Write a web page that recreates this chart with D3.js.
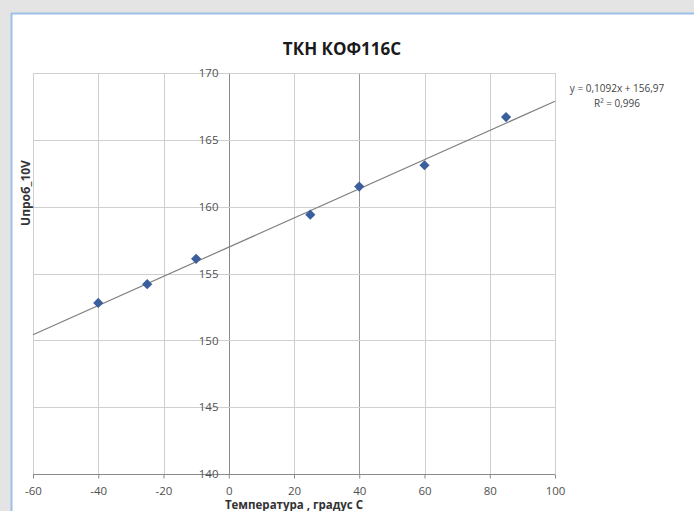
<!DOCTYPE html>
<html>
<head>
<meta charset="utf-8">
<script src="https://cdn.jsdelivr.net/npm/d3@7"></script>
<style>
  html, body { margin: 0; padding: 0; background: #fff; }
  svg { display: block; }
</style>
</head>
<body>
<div id="chart"></div>
<script>
"use strict";

// values
var temps = [-40, -25, -10, 25, 40, 60, 85];
var volts = [152.8, 154.2, 156.1, 159.4, 161.5, 163.1, 166.7];
var xTicks = [-60, -40, -20, 0, 20, 40, 60, 80, 100];
var yTicks = [140, 145, 150, 155, 160, 165, 170];
// trendline from the chart's own equation
var trendSlope = 0.1092;
var trendIntercept = 156.97;
var trendLabel = "y = 0,1092x + 156,97";
var r2Label = "R\u00b2 = 0,996";

var W = 694, H = 511;

var svg = d3.select("#chart").append("svg")
    .attr("width", W)
    .attr("height", H);

// window frame around the chart
svg.append("rect").attr("width", W).attr("height", H).attr("fill", "#e4e4e4");
svg.append("rect").attr("x", 11).attr("y", 13).attr("width", W - 11).attr("height", H - 13).attr("fill", "#fff");
svg.append("line").attr("x1", 11).attr("x2", W).attr("y1", 13.5).attr("y2", 13.5)
   .attr("stroke", "#9cc1e4").attr("stroke-width", 2);
svg.append("line").attr("x1", 11.5).attr("x2", 11.5).attr("y1", 13).attr("y2", H)
   .attr("stroke", "#9cc1e4").attr("stroke-width", 2);

var x = d3.scaleLinear().domain([-60, 100]).range([33, 555]);
var y = d3.scaleLinear().domain([140, 170]).range([474, 73]);

var plain = function (d) { return String(d); }; // hyphen minus like the original

// gridlines
svg.append("g").selectAll("line")
   .data(xTicks)
   .enter().append("line")
   .attr("x1", function (d) { return Math.round(x(d)) + 0.5; })
   .attr("x2", function (d) { return Math.round(x(d)) + 0.5; })
   .attr("y1", y(170)).attr("y2", y(140))
   .attr("stroke", function (d) { return d == 0 ? "#8a8a8a" : (d == 40 ? "#9a9a9a" : "#cfcfcf"); })
   .attr("stroke-width", 1);

svg.append("g").selectAll("line")
   .data(yTicks)
   .enter().append("line")
   .attr("x1", x(-60)).attr("x2", x(100))
   .attr("y1", function (d) { return Math.round(y(d)) + 0.5; })
   .attr("y2", function (d) { return Math.round(y(d)) + 0.5; })
   .attr("stroke", function (d) { return d == 140 ? "#8a8a8a" : "#cfcfcf"; })
   .attr("stroke-width", 1);

// axes (labels only, lines drawn above)
var yAxis = d3.axisLeft(y).tickValues(yTicks).tickFormat(plain).tickSize(0).tickPadding(11);
svg.append("g")
   .attr("transform", "translate(" + (Math.round(x(0)) + 0.5) + ",0)")
   .call(yAxis)
   .call(function (g) { g.select(".domain").remove(); })
   .selectAll("text")
   .attr("font-family", "Open Sans, sans-serif")
   .attr("font-size", 11.5)
   .attr("fill", "#505050");

var xAxis = d3.axisBottom(x).tickValues(xTicks).tickFormat(plain).tickSize(4).tickPadding(8);
svg.append("g")
   .attr("transform", "translate(0," + (Math.round(y(140)) + 0.5) + ")")
   .call(xAxis)
   .call(function (g) {
       g.select(".domain").remove();
       g.selectAll(".tick line").attr("stroke", "#8a8a8a");
   })
   .selectAll("text")
   .attr("font-family", "Open Sans, sans-serif")
   .attr("font-size", 11.5)
   .attr("fill", "#505050");

// trendline
svg.append("line")
   .attr("x1", x(-60)).attr("y1", y(trendSlope * -60 + trendIntercept))
   .attr("x2", x(100)).attr("y2", y(trendSlope * 100 + trendIntercept))
   .attr("stroke", "#7f7f7f")
   .attr("stroke-width", 1.2);

// markers
var points = temps.map(function (t, i) { return { t: t, v: volts[i] }; });
svg.append("g").selectAll("path")
   .data(points)
   .enter().append("path")
   .attr("d", d3.symbol().type(d3.symbolSquare).size(52))
   .attr("transform", function (d) {
       return "translate(" + x(d.t) + "," + y(d.v) + ") rotate(45)";
   })
   .attr("fill", "#3a5f9c");

// trend equation
svg.append("text")
   .attr("x", 617).attr("y", 92)
   .attr("text-anchor", "middle")
   .attr("font-family", "Open Sans, sans-serif")
   .attr("font-size", 10)
   .attr("fill", "#444")
   .text(trendLabel);
svg.append("text")
   .attr("x", 617).attr("y", 107)
   .attr("text-anchor", "middle")
   .attr("font-family", "Open Sans, sans-serif")
   .attr("font-size", 10)
   .attr("fill", "#444")
   .text(r2Label);

// titles
svg.append("text")
   .attr("x", 342).attr("y", 55)
   .attr("text-anchor", "middle")
   .attr("font-family", "Open Sans, sans-serif")
   .attr("font-weight", "bold")
   .attr("font-size", 17)
   .attr("fill", "#1a1a1a")
   .text("ТКН КОФ116С");

svg.append("text")
   .attr("transform", "translate(30,193) rotate(-90)")
   .attr("text-anchor", "middle")
   .attr("font-family", "Open Sans, sans-serif")
   .attr("font-weight", "bold")
   .attr("font-size", 12)
   .attr("fill", "#333")
   .text("Uпроб_10V");

svg.append("text")
   .attr("x", 294).attr("y", 509)
   .attr("text-anchor", "middle")
   .attr("font-family", "Open Sans, sans-serif")
   .attr("font-weight", "bold")
   .attr("font-size", 11.5)
   .attr("fill", "#333")
   .text("Температура , градус С");
</script>
</body>
</html>
